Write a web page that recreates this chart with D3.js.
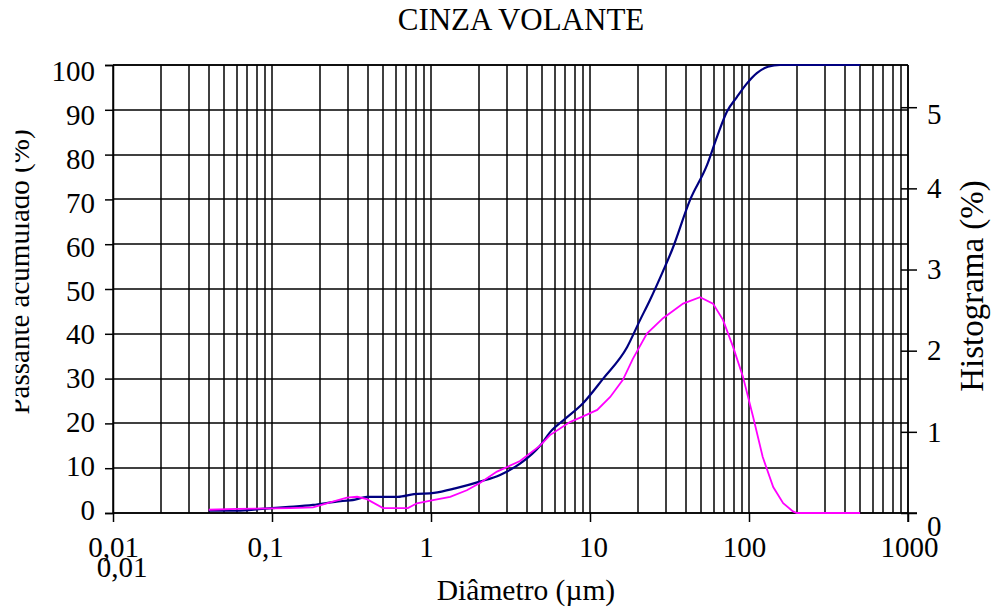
<!DOCTYPE html>
<html><head><meta charset="utf-8">
<script src="https://cdn.jsdelivr.net/npm/d3@7"></script>
<style>html,body{margin:0;padding:0;background:#fff;}svg{display:block;}text{font-family:"Liberation Serif","Times New Roman",serif;fill:#000;}</style>
</head><body>
<script>
// ---- data ----
const title = "CINZA VOLANTE";
const xLabel = "Diâmetro (µm)";
const yLeftLabel = "Passante acumulado (%)";
const yRightLabel = "Histograma (%)";
const xTicks = [0.01, 0.1, 1, 10, 100, 1000];
const xTickLabels = ["0,01", "0,1", "1", "10", "100", "1000"];
const yLeftTicks = [0,10,20,30,40,50,60,70,80,90,100];
const yRightTicks = [0,1,2,3,4,5];
// cumulative passing (%)
const cumDiam = [0.04,0.0603,0.0865,0.122,0.181,0.249,0.333,0.395,0.619,0.781,1.045,1.42,2.03,2.72,3.63,4.85,5.6,6.97,9.04,12.1,17.1,20.6,23.8,28.8,32.8,42.6,54.5,63,72.7,84.1,97.1,112,131.6,156.8,500];
const cumVal  = [0.5,0.5,0.9,1.3,1.8,2.5,3.0,3.6,3.6,4.2,4.5,5.5,7.0,8.5,11.0,15.0,18.0,21.0,24.5,30,37,43,47.5,54,58.7,69.9,77.7,84,89.6,92.9,95.9,98.2,99.6,100,100];
// histogram (%)
const histDiam = [0.04,0.0603,0.13,0.181,0.232,0.296,0.343,0.395,0.499,0.716,0.816,1.03,1.32,1.68,2.03,2.6,3.63,4.85,5.6,7.48,9.04,11.1,13.4,16.1,18.6,22.8,28.8,38.5,49.2,59.4,68.6,79.3,91.6,106,122,142,164,189,200,500];
const histVal  = [0.04,0.05,0.06,0.07,0.13,0.19,0.2,0.17,0.06,0.06,0.12,0.16,0.2,0.28,0.37,0.51,0.64,0.83,0.96,1.12,1.19,1.27,1.43,1.64,1.9,2.21,2.40,2.58,2.66,2.58,2.38,2.05,1.68,1.19,0.69,0.32,0.12,0.02,0,0];

const W = 991, H = 611;
const L = 113, R = 908, T = 65, B = 513;
const svg = d3.select("body").append("svg").attr("width", W).attr("height", H);

const x = d3.scaleLog().domain([0.01, 1000]).range([L, R]);
const yL = d3.scaleLinear().domain([0, 100]).range([B, T]);
const yR = d3.scaleLinear().domain([0, 5.52]).range([B, T]);

// grid
const minor = [];
for (let e = -2; e <= 2; e++) for (let m = 1; m <= 9; m++) minor.push(m * Math.pow(10, e));
minor.push(1000);
const sw = 1.5;
const grid = svg.append("g").attr("stroke", "#000").attr("stroke-width", sw);
grid.selectAll("line.v").data(minor).join("line").attr("class","v")
  .attr("x1", d => Math.round(x(d))).attr("x2", d => Math.round(x(d))).attr("y1", T).attr("y2", B);
grid.selectAll("line.h").data(yLeftTicks).join("line").attr("class","h")
  .attr("x1", L).attr("x2", R).attr("y1", d => Math.round(yL(d))).attr("y2", d => Math.round(yL(d)));

// axes
const fs = 29;
const gl = svg.append("g").attr("transform", `translate(${L},0)`)
  .call(d3.axisLeft(yL).tickValues(yLeftTicks).tickSize(8).tickPadding(10).tickFormat(d3.format("d")));
gl.selectAll("text").attr("font-size", fs).attr("font-family","Liberation Serif")
  .attr("dy", d => (0.32 + (d/100)*9.5/fs - 3/fs) + "em");
gl.select(".domain").attr("stroke-width", sw);
gl.selectAll(".tick line").attr("stroke-width", sw);

const xLabelShift = [0, -7, -5, 3, -5, 1];
const gb = svg.append("g").attr("transform", `translate(0,${B})`)
  .call(d3.axisBottom(x).tickValues(xTicks).tickSize(9).tickPadding(14).tickFormat((d,i) => xTickLabels[i]));
gb.selectAll("text").attr("font-size", fs).attr("font-family","Liberation Serif")
  .attr("dx", (d,i) => xLabelShift[i]);
gb.select(".domain").attr("stroke-width", sw).attr("d", `M${L},0H917`);
gb.selectAll(".tick line").attr("stroke-width", sw);
// duplicated first label (as in the reference)
svg.append("text").attr("x", x(0.01) + 9).attr("y", 577).attr("text-anchor","middle")
  .attr("font-size", fs).text(xTickLabels[0]);

const gr = svg.append("g").attr("transform", `translate(${R},0)`)
  .call(d3.axisRight(yR).tickValues(yRightTicks).tickSize(9).tickPadding(10).tickFormat(d3.format("d")));
gr.selectAll("text").attr("font-size", fs).attr("font-family","Liberation Serif")
  .attr("dy", d => d === 0 ? "0.77em" : (d === 5 ? "0.55em" : "0.32em"));
gr.select(".domain").remove();
gr.selectAll(".tick line").attr("x1", -7).attr("stroke-width", sw);
svg.append("line").attr("x1", R).attr("x2", R).attr("y1", T).attr("y2", B + 9).attr("stroke","#000").attr("stroke-width",sw);
svg.append("line").attr("x1", L).attr("x2", R).attr("y1", T).attr("y2", T).attr("stroke","#000").attr("stroke-width",sw);

// curves
const lineCum = d3.line().x((d,i) => x(cumDiam[i])).y(d => yL(d)).curve(d3.curveMonotoneX);
svg.append("path").datum(cumVal).attr("d", lineCum).attr("fill","none")
  .attr("stroke", "#000080").attr("stroke-width", 2.2);
const lineHist = d3.line().x((d,i) => x(histDiam[i])).y(d => yR(d));
svg.append("path").datum(histVal).attr("d", lineHist).attr("fill","none")
  .attr("stroke", "#FF00FF").attr("stroke-width", 1.8);

// titles
svg.append("text").attr("x", 521).attr("y", 30).attr("text-anchor","middle").attr("font-size", 31).text(title);
svg.append("text").attr("x", 526).attr("y", 600).attr("text-anchor","middle").attr("font-size", 29.5).text(xLabel);
svg.append("clipPath").attr("id","clipY").append("rect").attr("x", 15.5).attr("y", 0).attr("width", 60).attr("height", H);
svg.append("g").attr("clip-path","url(#clipY)").append("text")
  .attr("transform", "translate(29,272) rotate(-90)").attr("text-anchor","middle").attr("font-size", fs).text(yLeftLabel);
svg.append("text").attr("transform", "translate(983,286) rotate(-90)").attr("text-anchor","middle").attr("font-size", 33).text(yRightLabel);
</script>
</body></html>
